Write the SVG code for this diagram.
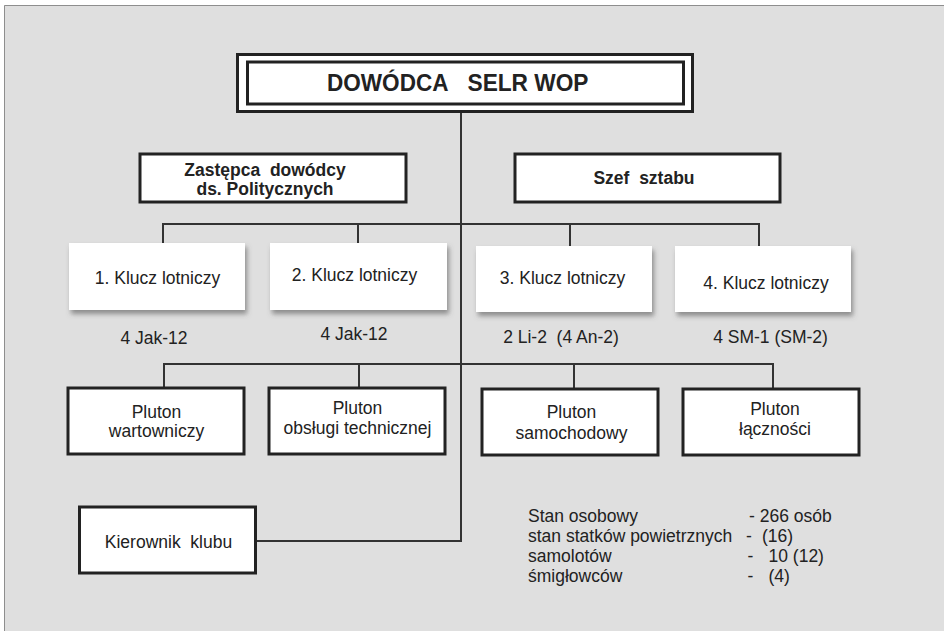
<svg xmlns="http://www.w3.org/2000/svg" width="944" height="631" viewBox="0 0 944 631">
<defs>
<filter id="sh" x="-10%" y="-10%" width="130%" height="140%">
<feDropShadow dx="2" dy="4" stdDeviation="2.5" flood-color="#555" flood-opacity="0.6"/>
</filter>
</defs>
<style>
.t{font-family:"Liberation Sans",Arial,sans-serif;font-size:17.5px;fill:#222;text-anchor:middle;white-space:pre}
.b{font-weight:bold}
.l{text-anchor:start}
.box{fill:#fff;stroke:#222;stroke-width:3}
.kl{fill:#fff;filter:url(#sh)}
.c{stroke:#333;stroke-width:2;fill:none}
</style>
<rect x="0" y="0" width="944" height="631" fill="#fff"/>
<rect x="4" y="5" width="940" height="626" fill="#dfdfdf"/>
<path d="M4.5 631V5.5H944" fill="none" stroke="#8e8e8e" stroke-width="1"/>

<g id="connectors">
<path class="c" d="M461 113V541H256"/>
<path class="c" d="M163 243V224H759V246M358 224V243M570 224V246"/>
<path class="c" d="M164 387V364H773V388M359 364V387M574 364V388"/>
</g>

<g id="dowodca">
<rect x="237.5" y="54.5" width="455" height="57" fill="#fff" stroke="#222" stroke-width="3"/>
<rect x="247.5" y="62" width="436" height="42" fill="#fff" stroke="#222" stroke-width="3"/>
<text class="t b l" x="327" y="91" style="font-size:24.5px" textLength="121.5" lengthAdjust="spacingAndGlyphs">DOWÓDCA</text>
<text class="t b l" x="467.5" y="91" style="font-size:24.5px" textLength="121" lengthAdjust="spacingAndGlyphs">SELR WOP</text>
</g>

<g id="zastepca">
<rect class="box" x="140" y="154" width="266" height="48"/>
<text class="t b" x="265" y="176" xml:space="preserve">Zastępca  dowódcy</text>
<text class="t b" x="265" y="195">ds. Politycznych</text>
</g>

<g id="szef">
<rect class="box" x="515" y="154" width="265" height="48"/>
<text class="t b" x="644" y="184" xml:space="preserve">Szef  sztabu</text>
</g>

<g id="klucz1">
<rect class="kl" x="69" y="243" width="176" height="67"/>
<text class="t" x="157.5" y="284">1. Klucz lotniczy</text>
<text class="t" x="154" y="344">4 Jak-12</text>
</g>
<g id="klucz2">
<rect class="kl" x="270" y="243" width="177" height="67"/>
<text class="t" x="354.5" y="281">2. Klucz lotniczy</text>
<text class="t" x="354" y="340">4 Jak-12</text>
</g>
<g id="klucz3">
<rect class="kl" x="476" y="246" width="176" height="66"/>
<text class="t" x="562.5" y="284">3. Klucz lotniczy</text>
<text class="t" x="561" y="343" xml:space="preserve">2 Li-2  (4 An-2)</text>
</g>
<g id="klucz4">
<rect class="kl" x="675" y="246" width="176" height="66"/>
<text class="t" x="766" y="289">4. Klucz lotniczy</text>
<text class="t" x="770.5" y="343">4 SM-1 (SM-2)</text>
</g>

<g id="pluton-wart">
<rect class="box" x="68" y="388" width="176" height="66"/>
<text class="t" x="156.5" y="418">Pluton</text>
<text class="t" x="156.5" y="437">wartowniczy</text>
</g>
<g id="pluton-obsl">
<rect class="box" x="269" y="388" width="176" height="66"/>
<text class="t" x="357.5" y="414">Pluton</text>
<text class="t" x="357.5" y="434">obsługi technicznej</text>
</g>
<g id="pluton-samoch">
<rect class="box" x="482" y="389" width="176" height="66"/>
<text class="t" x="571.5" y="418">Pluton</text>
<text class="t" x="571.5" y="438.5">samochodowy</text>
</g>
<g id="pluton-lacz">
<rect class="box" x="683" y="389" width="176" height="66"/>
<text class="t" x="775" y="415">Pluton</text>
<text class="t" x="775" y="434.5">łączności</text>
</g>

<g id="kierownik">
<rect class="box" x="79.5" y="507" width="176" height="66"/>
<text class="t" x="168.5" y="548" xml:space="preserve">Kierownik  klubu</text>
</g>

<g id="stats">
<text class="t l" x="528" y="521.5">Stan osobowy</text>
<text class="t l" x="749" y="521.5">- 266 osób</text>
<text class="t l" x="528" y="541.5">stan statków powietrznych</text>
<text class="t l" x="746" y="541.5">-</text>
<text class="t l" x="762" y="541.5">(16)</text>
<text class="t l" x="528" y="561.5">samolotów</text>
<text class="t l" x="747.5" y="561.5">-</text>
<text class="t l" x="768.5" y="561.5">10 (12)</text>
<text class="t l" x="528" y="581.5">śmigłowców</text>
<text class="t l" x="747.5" y="581.5">-</text>
<text class="t l" x="768.5" y="581.5">(4)</text>
</g>
</svg>
